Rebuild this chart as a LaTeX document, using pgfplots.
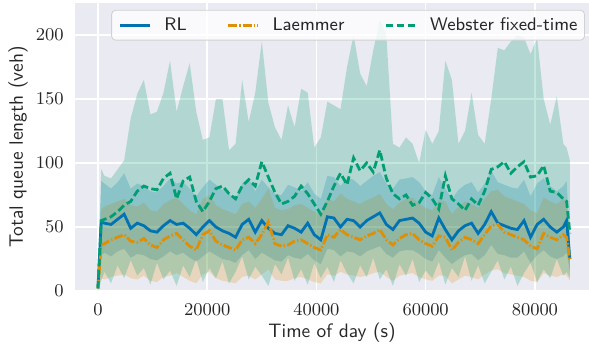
\documentclass[border=0pt]{standalone}
\usepackage{pgfplots}
\pgfplotsset{compat=1.18}
\usepackage{pgfplotstable}
\usepgfplotslibrary{fillbetween}
\definecolor{bgcol}{RGB}{234,234,242}
\definecolor{cRL}{RGB}{1,115,178}
\definecolor{cLA}{RGB}{222,143,5}
\definecolor{cWE}{RGB}{2,158,115}
\definecolor{txt}{RGB}{38,38,38}

\pgfplotstableread{
x m lo hi
0 2 0 5
600 54 28 86
1200 53 30 84
2400 52 27 80
3600 56 31 85
4800 60 33 92
6000 49 26 80
7200 53 29 84
8400 51 28 82
9600 47 25 78
10800 46 24 77
12000 51 27 82
13200 55 31 88
14400 52 28 84
15600 53 30 85
16800 49 26 80
18000 44 23 74
19200 50 27 81
20400 55 31 87
21600 50 28 83
22800 47 25 79
24000 45 24 76
25200 42 22 72
26400 52 28 84
27600 56 32 88
28800 46 25 78
30000 55 30 87
31200 49 27 81
32400 45 24 76
33600 44 23 75
34800 51 28 83
36000 49 26 81
37200 46 25 78
38400 53 29 85
39600 44 24 76
40800 40 21 72
42000 58 33 90
43200 57 32 89
44400 50 27 82
45600 56 31 88
46800 55 30 87
48000 50 27 82
49200 55 31 86
50400 58 33 90
51600 61 35 93
52800 52 29 84
54000 48 26 80
55200 55 31 87
56400 56 32 88
57600 57 32 89
58800 53 29 85
60000 46 25 78
61200 43 23 75
62400 57 32 89
63600 48 26 80
64800 40 21 72
66000 47 25 79
67200 51 28 83
68400 53 29 85
69600 45 24 77
70800 52 28 84
72000 62 36 94
73200 53 29 85
74400 51 28 83
75600 49 26 81
76800 48 26 80
78000 55 31 87
79200 42 22 74
80400 52 28 84
81600 56 32 88
82800 50 27 82
84000 46 25 78
85200 50 27 82
85800 55 30 86
86400 25 15 40
}\rltab

\pgfplotstableread{
x m lo hi
0 2 0 4
600 36 10 64
1200 37 9 66
2400 40 11 68
3600 42 12 70
4800 44 13 72
6000 39 10 67
7200 38 9 66
8400 41 12 69
9600 36 8 63
10800 34 7 62
12000 40 11 68
13200 43 12 71
14400 45 14 73
15600 40 11 68
16800 35 8 63
18000 32 6 60
19200 44 13 72
20400 47 15 75
21600 39 10 67
22800 36 8 64
24000 34 7 62
25200 32 6 60
26400 40 11 68
27600 42 12 70
28800 37 9 65
30000 44 13 72
31200 54 17 80
32400 37 9 65
33600 35 8 63
34800 36 8 64
36000 39 10 67
37200 40 11 68
38400 37 9 65
39600 34 7 62
40800 32 6 60
42000 44 13 72
43200 42 12 70
44400 48 15 76
45600 44 13 72
46800 42 12 70
48000 40 11 68
49200 43 12 71
50400 45 14 73
51600 48 15 76
52800 40 11 68
54000 36 8 64
55200 41 12 69
56400 44 13 72
57600 45 14 73
58800 40 11 68
60000 37 9 65
61200 35 8 63
62400 43 12 71
63600 42 12 70
64800 32 6 60
66000 38 9 66
67200 42 12 70
68400 40 11 68
69600 37 9 65
70800 44 13 72
72000 51 16 78
73200 52 17 79
74400 46 14 74
75600 44 13 72
76800 42 12 70
78000 40 11 68
79200 35 8 63
80400 33 7 61
81600 45 14 73
82800 42 12 70
84000 40 11 68
85200 44 13 72
85800 42 12 70
86400 24 8 40
}\latab

\pgfplotstableread{
x m lo hi
0 2 0 5
600 55 8 95
1200 56 15 90
2400 58 6 88
3600 62 20 95
4800 67 10 102
6000 70 24 135
7200 78 12 154
8400 82 18 165
9600 80 5 138
10800 79 22 140
12000 88 9 155
13200 92 16 180
14400 72 4 140
15600 86 20 160
16800 89 11 178
18000 70 25 140
19200 62 7 118
20400 70 18 120
21600 80 10 150
22800 82 23 150
24000 76 6 110
25200 72 15 115
26400 82 27 165
27600 87 9 132
28800 82 19 155
30000 101 12 195
31200 89 4 147
32400 77 21 128
33600 68 13 118
34800 70 26 145
36000 74 8 128
37200 82 17 158
38400 76 5 155
39600 68 22 112
40800 60 10 120
42000 70 19 148
43200 82 7 145
44400 92 24 142
45600 83 14 175
46800 104 6 200
48000 94 20 170
49200 100 11 160
50400 93 26 188
51600 110 9 212
52800 88 17 200
54000 76 4 115
55200 72 21 112
56400 75 12 120
57600 67 25 115
58800 69 7 100
60000 77 16 126
61200 72 10 115
62400 64 23 125
63600 90 5 180
64800 72 18 165
66000 68 11 115
67200 63 27 125
68400 72 8 155
69600 67 20 122
70800 78 6 115
72000 95 15 150
73200 97 24 190
74400 101 9 188
75600 92 19 195
76800 97 4 200
78000 101 14 198
79200 89 22 185
80400 90 7 198
81600 98 17 150
82800 78 10 130
84000 77 25 152
85200 72 12 115
85800 70 15 112
86400 45 10 102
}\wetab

\begin{document}
\begin{tikzpicture}
\begin{axis}[
  scale only axis,
  width=257pt, height=144pt,
  xmin=-4200, xmax=89900,
  ymin=0, ymax=225,
  axis background/.style={fill=bgcol},
  axis line style={draw=none},
  major tick length=0pt,
  grid=major,
  major grid style={white, line width=0.8pt},
  xtick={0,20000,40000,60000,80000},
  ytick={0,50,100,150,200},
  scaled x ticks=false,
  xticklabel style={/pgf/number format/1000 sep={}, inner sep=0pt, anchor=north, yshift=-6pt, font=\fontsize{9.4}{11}\selectfont, text=txt},
  yticklabel style={inner sep=0pt, anchor=east, xshift=-5.5pt, font=\fontsize{9.4}{11}\selectfont, text=txt},
  xlabel={Time of day (s)},
  ylabel={Total queue length (veh)},
  xlabel style={at={(axis description cs:0.5,-0.146)}, anchor=center, font=\sffamily\fontsize{9.7}{12}\selectfont, text=txt},
  ylabel style={at={(axis description cs:-0.111,0.5)}, anchor=center, font=\sffamily\fontsize{9.7}{12}\selectfont, text=txt},
  legend columns=3,
  legend style={at={(axis description cs:0.992,0.976)}, anchor=north east,
    draw=black!18, rounded corners=2pt, fill=white, fill opacity=0.8, text opacity=1,
    font=\sffamily\fontsize{9.1}{11}\selectfont, text=txt,
    inner xsep=3.5pt, inner ysep=2.5pt,
    nodes={inner xsep=0pt, inner ysep=1pt},
    /tikz/every odd column/.append style={column sep=6.5pt},
    /tikz/every even column/.append style={column sep=20pt}},
  legend image code/.code={\draw[#1] (0pt,0pt) -- (15pt,0pt);},
]
% bands
\addplot[draw=none, forget plot, name path=rlhi] table[x=x,y=hi]{\rltab};
\addplot[draw=none, forget plot, name path=rllo] table[x=x,y=lo]{\rltab};
\addplot[fill=cRL, fill opacity=0.22, draw=none, forget plot] fill between[of=rlhi and rllo];
\addplot[draw=none, forget plot, name path=lahi] table[x=x,y=hi]{\latab};
\addplot[draw=none, forget plot, name path=lalo] table[x=x,y=lo]{\latab};
\addplot[fill=cLA, fill opacity=0.22, draw=none, forget plot] fill between[of=lahi and lalo];
\addplot[draw=none, forget plot, name path=wehi] table[x=x,y=hi]{\wetab};
\addplot[draw=none, forget plot, name path=welo] table[x=x,y=lo]{\wetab};
\addplot[fill=cWE, fill opacity=0.24, draw=none, forget plot] fill between[of=wehi and welo];
% mean lines
\addplot[cRL, line width=1.4pt, no markers] table[x=x,y=m]{\rltab};
\addlegendentry{RL}
\addplot[cLA, line width=1.4pt, no markers, dash pattern=on 4.4pt off 1.1pt on 0.7pt off 1.1pt] table[x=x,y=m]{\latab};
\addlegendentry{Laemmer}
\addplot[cWE, line width=1.4pt, no markers, dash pattern=on 3.8pt off 1.7pt] table[x=x,y=m]{\wetab};
\addlegendentry{Webster fixed-time}
\end{axis}
\pgfresetboundingbox
\path[use as bounding box] ([xshift=-37.5pt,yshift=-29pt]current axis.south west) rectangle ([yshift=1.5pt]current axis.north east);
\end{tikzpicture}
\end{document}
